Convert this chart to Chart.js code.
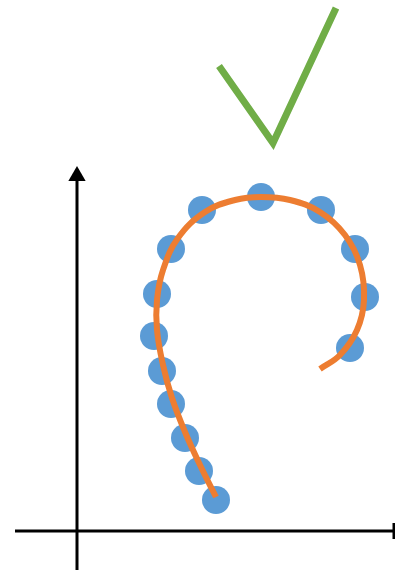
<!DOCTYPE html>
<html>
<head>
<meta charset="utf-8">
<title>Curve fit sketch</title>
<script src="https://cdn.jsdelivr.net/npm/chart.js@4/dist/chart.umd.min.js"></script>
<style>
  html, body { margin: 0; padding: 0; background: #fff; }
  #wrap { width: 395px; height: 571px; }
</style>
</head>
<body>
<div id="wrap"><canvas id="chart"></canvas></div>
<script>
// measured points (origin = where the two axes cross)
const pointsX = [139, 122, 108, 94, 85, 77, 80, 94, 125, 184, 244, 278, 288, 273];
const pointsY = [31, 60, 93, 127, 160, 195, 237, 282, 321, 334, 321, 282, 234, 183];

// fitted curve
const curveX = [139, 123, 108, 95, 86, 80, 80, 86, 101, 128, 158, 184, 213, 243, 268, 283, 287, 280, 263, 243];
const curveY = [34, 66, 99, 133, 166, 201, 231, 261, 293, 319, 331, 334, 331, 319, 296, 266, 231, 201, 176, 162];

// check mark
const checkX = [142, 196, 259];
const checkY = [465, 388, 523];

// axes
const xAxisX = [-62, 317];
const xAxisY = [0, 0];
const yAxisX = [0, 0];
const yAxisY = [-39, 353];

const zip = (xs, ys) => xs.map((x, i) => ({ x, y: ys[i] }));

document.addEventListener('DOMContentLoaded', () => {
  const ctx = document.getElementById('chart');
  new Chart(ctx, {
    type: 'scatter',
    data: {
      datasets: [
        {
          label: 'fit',
          data: zip(curveX, curveY),
          showLine: true,
          borderColor: '#ed7d31',
          borderWidth: 6,
          tension: 0.4,
          pointRadius: 0,
          clip: false
        },
        {
          label: 'points',
          data: zip(pointsX, pointsY),
          backgroundColor: '#5b9bd5',
          borderWidth: 0,
          pointRadius: 14,
          pointHoverRadius: 14,
          clip: false
        },
        {
          label: 'check',
          data: zip(checkX, checkY),
          showLine: true,
          borderColor: '#70ad47',
          borderWidth: 7,
          borderJoinStyle: 'miter',
          pointRadius: 0,
          clip: false
        },
        {
          label: 'x axis',
          data: zip(xAxisX, xAxisY),
          showLine: true,
          borderColor: '#000',
          borderWidth: 3,
          pointRadius: [0, 8],
          pointStyle: 'line',
          rotation: 90,
          pointBorderColor: '#000',
          pointBorderWidth: 3,
          clip: false
        },
        {
          label: 'y axis',
          data: zip(yAxisX, yAxisY),
          showLine: true,
          borderColor: '#000',
          borderWidth: 3,
          pointRadius: 0,
          clip: false
        },
        {
          label: 'arrow',
          data: [{ x: 0, y: 355 }],
          pointStyle: 'triangle',
          pointRadius: 10,
          backgroundColor: '#000',
          borderWidth: 0,
          clip: false
        }
      ]
    },
    options: {
      responsive: true,
      maintainAspectRatio: false,
      animation: false,
      layout: { padding: 0, autoPadding: false },
      plugins: { legend: { display: false }, tooltip: { enabled: false } },
      scales: {
        x: { type: 'linear', min: -77, max: 318, display: false },
        y: { type: 'linear', min: -40, max: 531, display: false }
      }
    }
  });
});
</script>
</body>
</html>
